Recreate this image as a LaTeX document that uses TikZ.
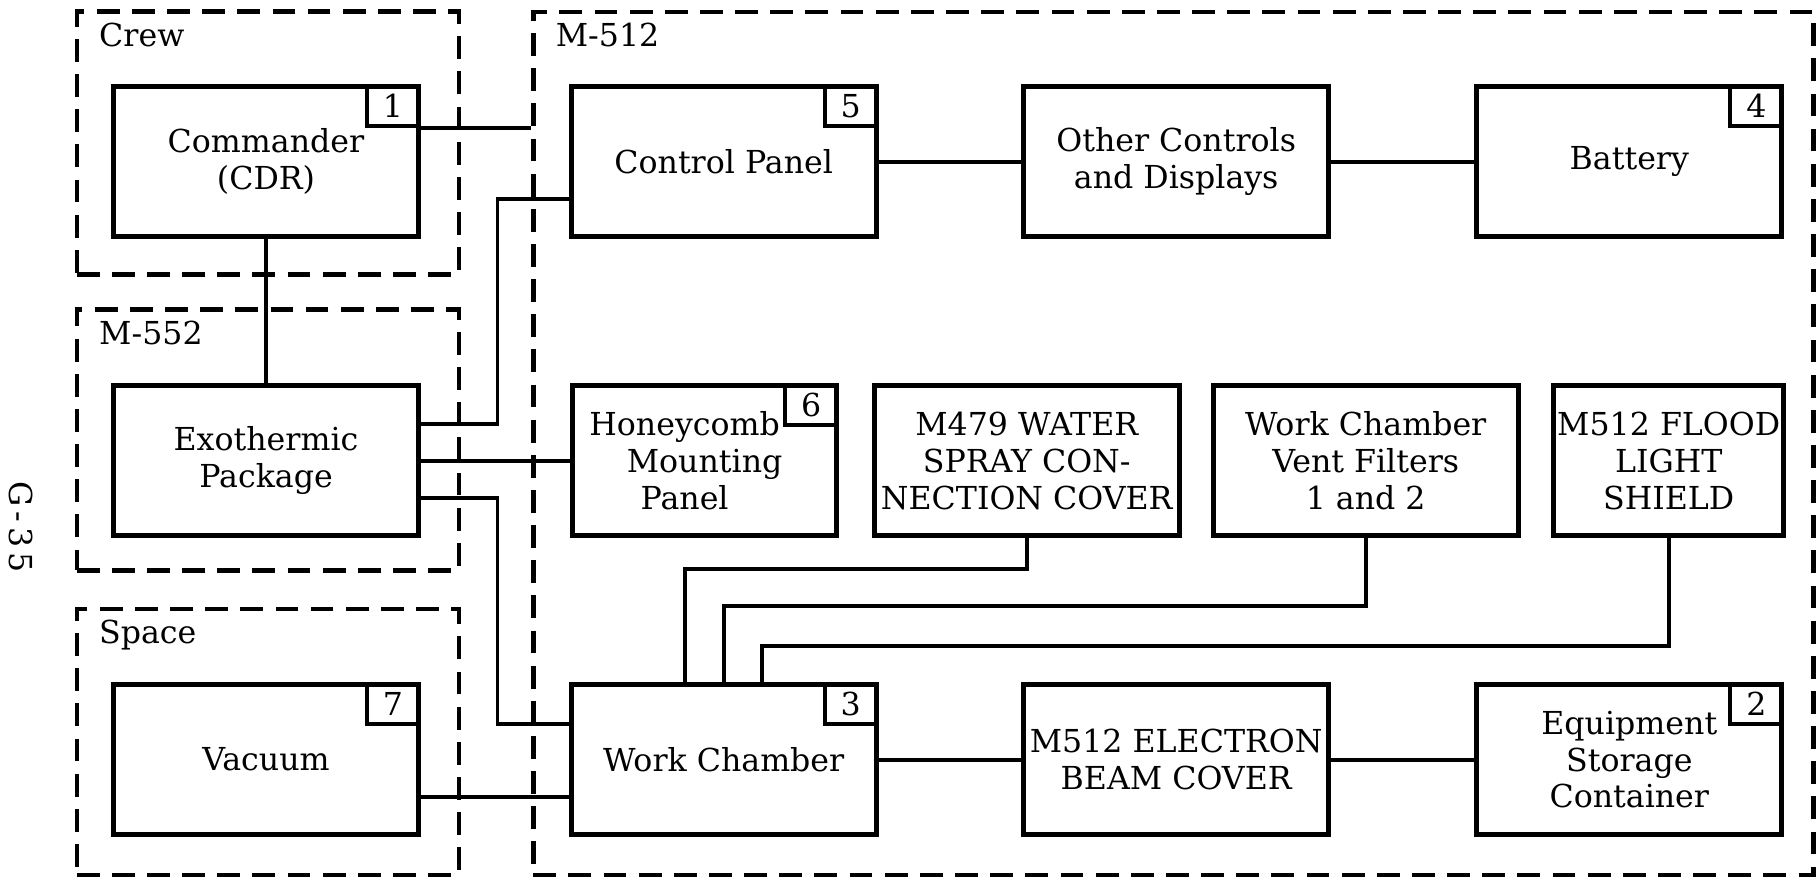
\documentclass[tikz,border=0pt]{standalone}
\usepackage{fontspec}
\setmainfont{DejaVu Serif}
\usetikzlibrary{positioning,calc}

\begin{document}
\begin{tikzpicture}[
  font=\fontsize{9}{10.5}\selectfont,
  grp/.style={draw,line width=1.25pt,dash pattern=on 6.5pt off 3.5pt,inner sep=0pt},
  blk/.style={draw,line width=1.4pt,minimum width=3.05cm,minimum height=1.5cm,align=center,inner sep=1pt},
  tag/.style={draw,line width=1.1pt,minimum width=0.52cm,minimum height=0.4cm,inner sep=0pt,anchor=north east},
  ttl/.style={anchor=north west,inner sep=0pt},
  ln/.style={line width=1.1pt},
]
\useasboundingbox (0,0) rectangle (18.17,-8.79);

% ============================================================ groups
\node[grp,minimum width=3.82cm,minimum height=2.63cm] (crew) at (2.677,-1.431) {};
\node[grp,minimum width=3.82cm,minimum height=2.61cm] (m552) at (2.677,-4.398) {};
\node[grp,minimum width=3.82cm,minimum height=2.66cm] (space) at (2.677,-7.417) {};
\node[grp,minimum width=12.80cm,minimum height=8.63cm] (m512) at (11.733,-4.433) {};
\node[ttl] (crewlbl) at ([xshift=2.4mm,yshift=-1.3mm]crew.north west) {Crew};
\node[ttl] (m552lbl) at ([xshift=2.4mm,yshift=-1.3mm]m552.north west) {M-552};
\node[ttl] (spacelbl) at ([xshift=2.4mm,yshift=-1.3mm]space.north west) {Space};
\node[ttl] (m512lbl) at ([xshift=2.4mm,yshift=-1.3mm]m512.north west) {M-512};

% ============================================================ blocks
\node[blk] (cdr) at (2.66,-1.617) {Commander\\(CDR)};
\node[blk] (exo) at (2.66,-4.606) {Exothermic\\Package};
\node[blk] (vac) at (2.66,-7.596) {Vacuum};
\node[blk] (cp)  at (7.237,-1.617) {Control Panel};
\node[blk] (oth) at (11.762,-1.617) {Other Controls\\and Displays};
\node[blk] (bat) at (16.293,-1.617) {Battery};
\node[blk,minimum width=2.64cm] (hon) at (7.046,-4.606)
  {Honeycomb\hspace*{4mm}\\Mounting\hspace*{4mm}\\Panel\hspace*{4mm}};
\node[blk] (wat) at (10.267,-4.606) {M479 WATER\\SPRAY CON-\\NECTION COVER};
\node[blk] (vent) at (13.657,-4.606) {Work Chamber\\Vent Filters\\1 and 2};
\node[blk,minimum width=2.27cm] (fld) at (16.687,-4.606) {M512 FLOOD\\LIGHT\\SHIELD};
\node[blk] (wc)  at (7.237,-7.596) {Work Chamber};
\node[blk] (ebc) at (11.762,-7.596) {M512 ELECTRON\\BEAM COVER};
\node[blk] (esc) at (16.293,-7.596) {Equipment\\Storage\\Container};

% number tags
\node[tag] (cdrtag) at (cdr.north east) {1};
\node[tag] (esctag) at (esc.north east) {2};
\node[tag] (wctag)  at (wc.north east) {3};
\node[tag] (battag) at (bat.north east) {4};
\node[tag] (cptag)  at (cp.north east) {5};
\node[tag] (hontag) at (hon.north east) {6};
\node[tag] (vactag) at (vac.north east) {7};

% ============================================================ links
\draw[ln] (cdrtag.south east) -- (cdrtag.south east -| m512.west);
\draw[ln] (cdr.south) -- (exo.north);
\draw[ln] ([yshift=3.65mm]exo.east) -- ++(0.765,0) |- ([yshift=-3.76mm]cp.west);
\draw[ln] (exo) -- (hon);
\draw[ln] ([yshift=-3.77mm]exo.east) -- ++(0.765,0) |- ([yshift=3.53mm]wc.west);
\draw[ln] ([yshift=-3.76mm]vac.east) -- ([yshift=-3.76mm]wc.west);
\draw[ln] (cp) -- (oth);
\draw[ln] (oth) -- (bat);
\draw[ln] (wc) -- (ebc);
\draw[ln] (ebc) -- (esc);
\draw[ln] ([xshift=-3.9mm]wc.north) -- ++(0,1.136) -| (wat.south);
\draw[ln] (wc.north) -- ++(0,0.765) -| (vent.south);
\draw[ln] ([xshift=3.8mm]wc.north) -- ++(0,0.36) -| (fld.south);

% page mark
\node[rotate=-90] (page) at (0.21,-5.27) {G\,-\,3\,5};
\end{tikzpicture}
\end{document}
